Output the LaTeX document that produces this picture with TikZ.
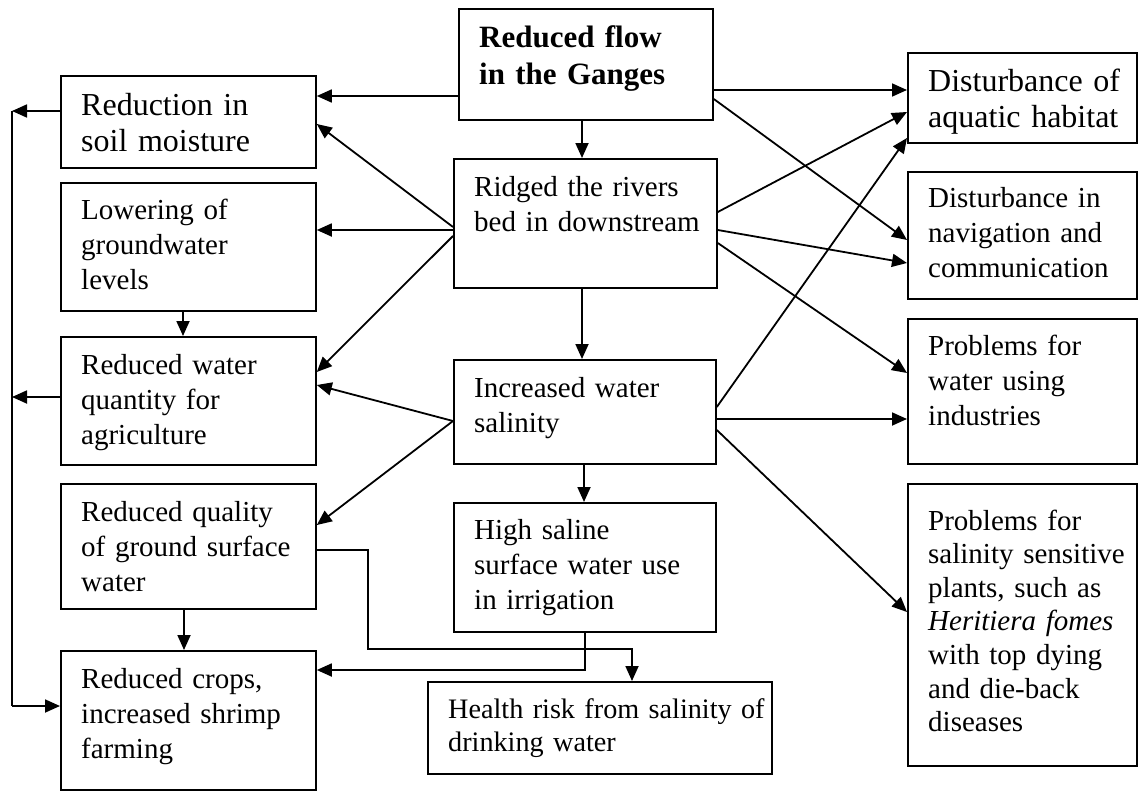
\documentclass[tikz,border=0pt]{standalone}
\usepackage{fontspec}
\setmainfont{Liberation Serif}
\usetikzlibrary{arrows.meta,calc}
\begin{document}
\begin{tikzpicture}[x=1pt,y=-1pt,
  box/.style={draw, line width=1.8pt, rectangle, anchor=north west, inner sep=0pt},
  txt/.style={anchor=base west, inner sep=0pt, align=left, text width=330pt,
              font=\fontsize{29}{35}\selectfont},
  bigtxt/.style={txt, font=\fontsize{32}{36.5}\selectfont},
  arr/.style={line width=1.8pt, -{Triangle[length=15pt,width=13pt]}},
  ln/.style={line width=1.8pt}]
\useasboundingbox (0,0) rectangle (1145,792);

% boxes
\node[box, minimum width=254pt, minimum height=111pt] (top) at (458,8) {};
\node[box, minimum width=255pt, minimum height=92pt] (soil) at (60,75) {};
\node[box, minimum width=255pt, minimum height=128pt] (lower) at (60,182) {};
\node[box, minimum width=255pt, minimum height=128pt] (quant) at (60,336) {};
\node[box, minimum width=255pt, minimum height=125pt] (qual) at (60,483) {};
\node[box, minimum width=255pt, minimum height=139pt] (crops) at (60,650) {};
\node[box, minimum width=263pt, minimum height=129pt] (ridged) at (453,158) {};
\node[box, minimum width=262pt, minimum height=104pt] (salin) at (453,359) {};
\node[box, minimum width=262pt, minimum height=129pt] (saline) at (453,502) {};
\node[box, minimum width=344pt, minimum height=92pt] (health) at (427,681) {};
\node[box, minimum width=229pt, minimum height=90pt] (aquatic) at (907,52) {};
\node[box, minimum width=229pt, minimum height=127pt] (navig) at (907,171) {};
\node[box, minimum width=229pt, minimum height=145pt] (indus) at (907,318) {};
\node[box, minimum width=229pt, minimum height=282pt] (plants) at (907,483) {};

% texts
\node[txt, font=\fontsize{31}{37}\selectfont\bfseries] (ttop) at (479,48) {Reduced flow\\in the Ganges};
\node[bigtxt] (tsoil) at (81,115) {Reduction in\\soil moisture};
\node[txt] (tlower) at (81,219) {Lowering of\\groundwater\\levels};
\node[txt] (tquant) at (81,374) {Reduced water\\quantity for\\agriculture};
\node[txt] (tqual) at (81,521) {Reduced quality\\of ground surface\\water};
\node[txt] (tcrops) at (81,688) {Reduced crops,\\increased shrimp\\farming};
\node[txt] (tridged) at (474,196) {Ridged the rivers\\bed in downstream};
\node[txt] (tsalin) at (474,397) {Increased water\\salinity};
\node[txt] (tsaline) at (474,539) {High saline\\surface water use\\in irrigation};
\node[txt, font=\fontsize{28.2}{33}\selectfont] (thealth) at (448,718) {Health risk from salinity of\\drinking water};
\node[bigtxt, font=\fontsize{32}{35.5}\selectfont] (taquatic) at (928,92) {Disturbance of\\aquatic habitat};
\node[txt] (tnavig) at (928,207) {Disturbance in\\navigation and\\communication};
\node[txt] (tindus) at (928,355) {Problems for\\water using\\industries};
\node[txt, font=\fontsize{29}{33.6}\selectfont] (tplants) at (928,530) {Problems for\\salinity sensitive\\plants, such as\\\textit{Heritiera fomes}\\with top dying\\and die-back\\diseases};

% left collector line
\coordinate (L1) at (12,111);
\coordinate (L2) at (12,397);
\coordinate (L3) at (12,706);

% connectors from top box
\draw[arr] ($(top.south west)+(124,0)$) -- ($(ridged.north west)+(129,0)$);
\draw[arr] ($(top.north west)+(0,88)$) -- ($(soil.north east)+(0,21)$);
\draw[arr] ($(top.north east)+(0,82)$) -- ($(aquatic.north west)+(0,38)$);
\draw[arr] ($(top.north east)+(0,91)$) -- ($(navig.north west)+(0,69)$);

% connectors from ridged box
\draw[arr] ($(ridged.north west)+(0,69)$) -- ($(soil.north east)+(0,49)$);
\draw[arr] ($(ridged.north west)+(0,72)$) -- ($(lower.north east)+(0,48)$);
\draw[arr] ($(ridged.north west)+(0,78)$) -- ($(quant.north east)+(0,36)$);
\draw[arr] ($(ridged.north east)+(0,54)$) -- ($(aquatic.north west)+(0,60)$);
\draw[arr] ($(ridged.north east)+(0,72)$) -- ($(navig.north west)+(0,92)$);
\draw[arr] ($(ridged.north east)+(0,85)$) -- ($(indus.north west)+(0,55)$);
\draw[arr] ($(ridged.south west)+(129,0)$) -- ($(salin.north west)+(129,0)$);

% connectors from salinity box
\draw[arr] ($(salin.north east)+(0,48)$) -- ($(aquatic.north west)+(0,86)$);
\draw[arr] ($(salin.north east)+(0,60)$) -- ($(indus.north west)+(0,101)$);
\draw[arr] ($(salin.north east)+(0,71)$) -- ($(plants.north west)+(0,129)$);
\draw[arr] ($(salin.north west)+(0,62)$) -- ($(quant.north east)+(0,49)$);
\draw[arr] ($(salin.north west)+(0,62)$) -- ($(qual.north east)+(0,42)$);
\draw[arr] ($(salin.south west)+(131,0)$) -- ($(saline.north west)+(131,0)$);

% left column
\draw[arr] ($(lower.south west)+(123,0)$) -- ($(quant.north west)+(123,0)$);
\draw[arr] ($(qual.south west)+(124,0)$) -- ($(crops.north west)+(124,0)$);
\draw[arr] ($(soil.north west)+(0,36)$) -- (L1);
\draw[arr] ($(quant.north west)+(0,61)$) -- (L2);
\draw[ln] (L1) -- (L3);
\draw[arr] (L3) -- ($(crops.north west)+(0,56)$);

% elbow connectors at the bottom
\draw[arr] ($(qual.north east)+(0,67)$) -- ++(51,0) |- ($(health.north west)+(205,-32)$) -- ($(health.north west)+(205,0)$);
\draw[arr] ($(saline.south west)+(132,0)$) |- ($(crops.north east)+(0,20)$);
\end{tikzpicture}
\end{document}
